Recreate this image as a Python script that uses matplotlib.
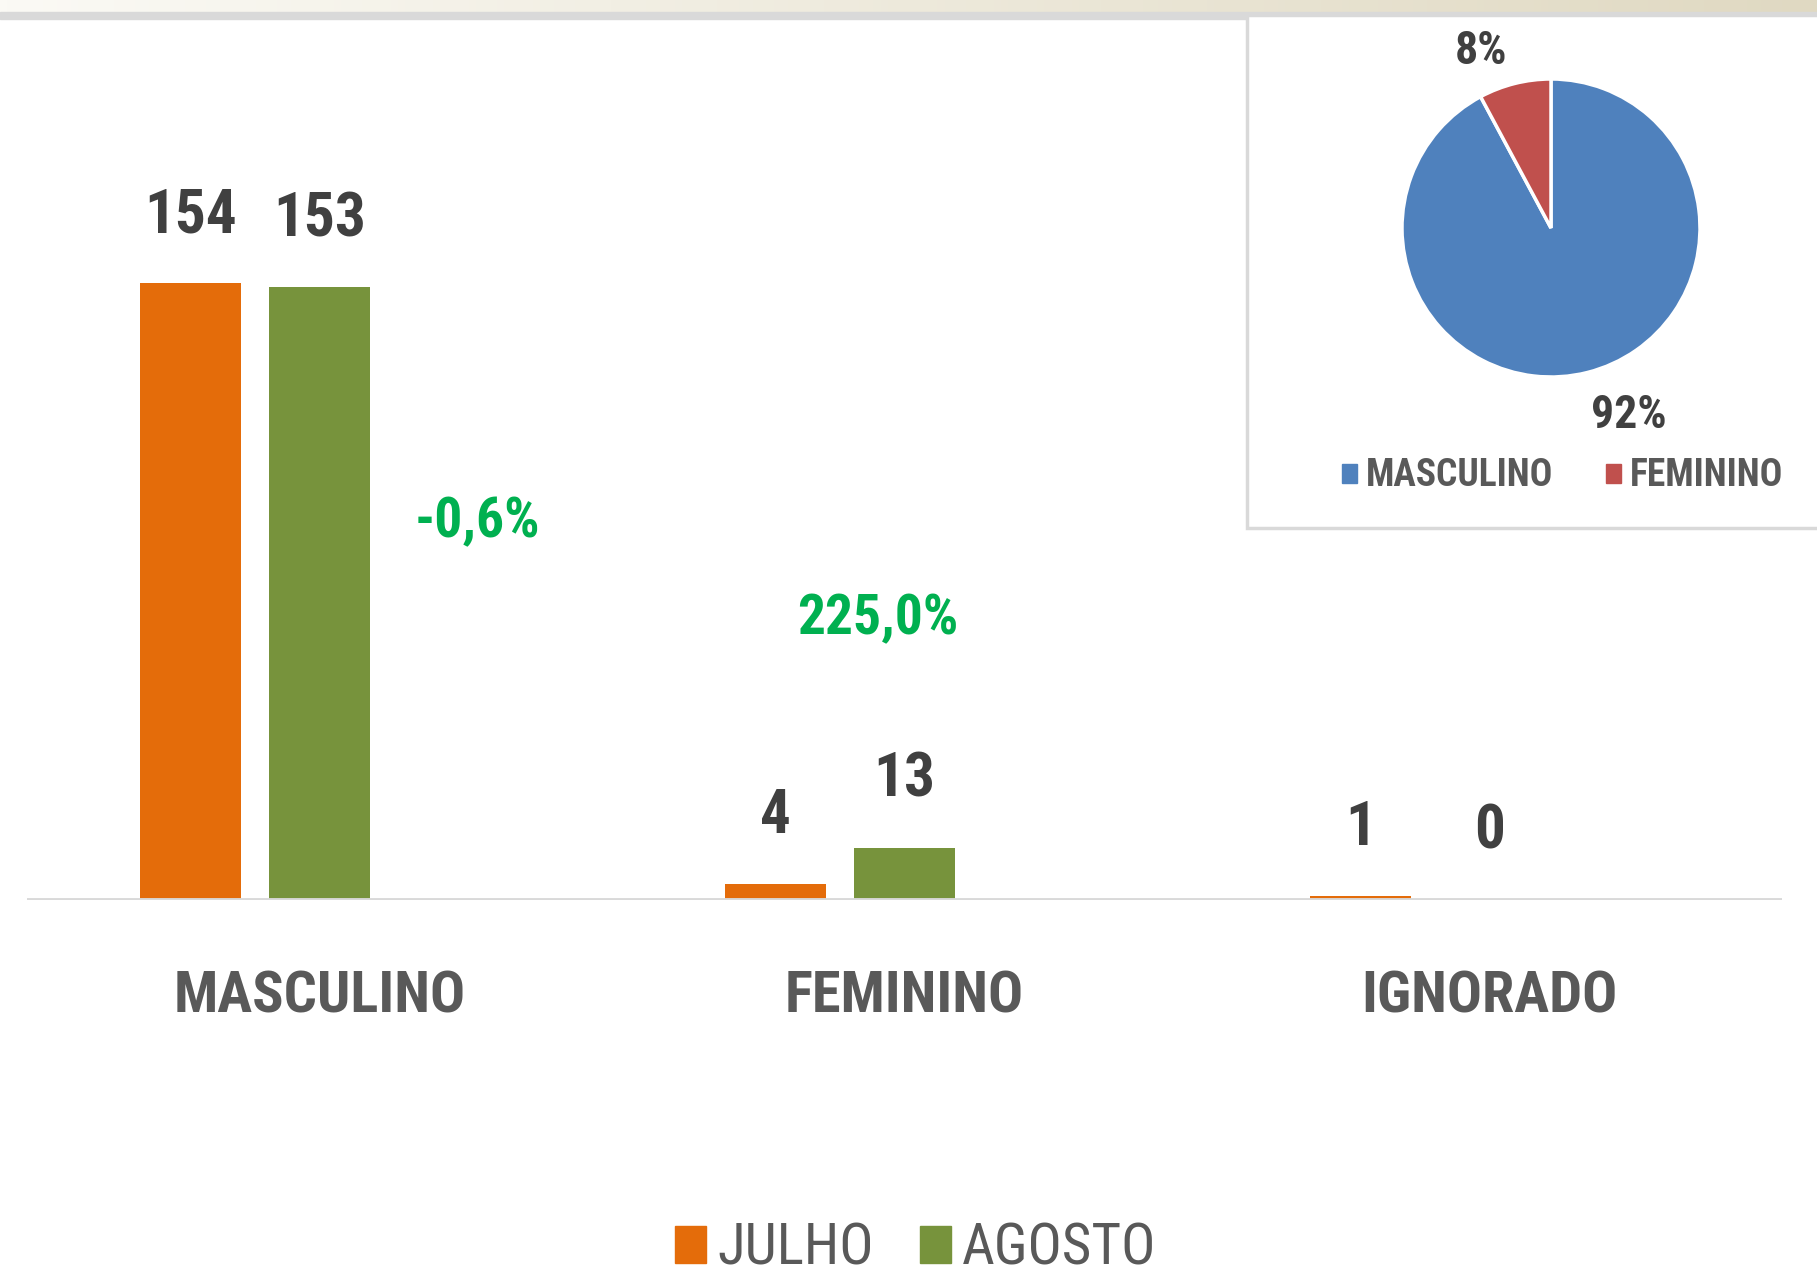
import numpy as np
import matplotlib.pyplot as plt
from matplotlib import font_manager as fm
from matplotlib.colors import to_rgb
from matplotlib.patches import Patch, Rectangle

# dados
categorias = ['MASCULINO', 'FEMININO', 'IGNORADO']
julho = [154, 4, 1]
agosto = [153, 13, 0]
meses = ['JULHO', 'AGOSTO']
pizza_labels = ['MASCULINO', 'FEMININO']
pizza_valores = [153, 13]

COR_JUL = '#e46c0a'
COR_AGO = '#77933c'
COR_AZUL = '#4f81bd'
COR_VERM = '#c0504d'
COR_VERDE_TXT = '#00b050'
CINZA_ESC = '#404040'
CINZA_MED = '#595959'
CINZA_CLARO = '#d9d9d9'


def fonte_estreita(negrito):
    """Procura uma fonte condensada instalada (parecida com Calibri esticada)."""
    peso_ok = (lambda w: w in ('bold', 700, 600, 'semibold', 'demibold')) if negrito \
        else (lambda w: w in ('normal', 'regular', 400, 'book'))
    prefs = ['Liberation Sans Narrow', 'Roboto Condensed', 'Open Sans Condensed',
             'DejaVu Sans Condensed']
    fontes = fm.fontManager.ttflist
    for nome in prefs:
        for f in fontes:
            if f.name == nome and peso_ok(f.weight) and f.style == 'normal':
                return fm.FontProperties(fname=f.fname)
    for f in fontes:
        if f.name == 'DejaVu Sans' and f.stretch == 'condensed' and peso_ok(f.weight) \
                and f.style == 'normal':
            return fm.FontProperties(fname=f.fname)
    for f in fontes:
        n = f.name.lower() + ' ' + f.fname.lower()
        if ('condensed' in n or 'narrow' in n) and peso_ok(f.weight) and f.style == 'normal' \
                and 'mono' not in n and 'serif' not in n:
            return fm.FontProperties(fname=f.fname)
    return fm.FontProperties(family='Lato', weight='bold' if negrito else 'normal')


FB = fonte_estreita(True)
FR = fonte_estreita(False)


def fp(base, size):
    p = base.copy()
    p.set_size(size)
    return p


W, H = 1817, 1279
fig = plt.figure(figsize=(W / 100, H / 100), dpi=100)

# faixa do topo (gradiente + linha cinza)
band = fig.add_axes([0, 1 - 12 / H, 1, 12 / H])
t = np.linspace(0, 1, 256)[:, None]
c0 = np.array(to_rgb('#fbfaf5'))
c1 = np.array(to_rgb('#e0d9c2'))
grad = c0 * (1 - t) + c1 * t
band.imshow(grad[None, :, :], aspect='auto')
band.axis('off')
fig.add_artist(Rectangle((0, 1 - 19 / H), 1, 7 / H, transform=fig.transFigure,
                         color=CINZA_CLARO, zorder=1))

# grafico de barras
ax = fig.add_axes([26.7 / W, 1 - 900 / H, (1782 - 26.7) / W, 801 / H])
ax.patch.set_alpha(0)
x = np.arange(len(categorias))
desloc = 0.22
larg = 0.172
ax.bar(x - desloc, julho, larg, color=COR_JUL, label=meses[0])
ax.bar(x, agosto, larg, color=COR_AGO, label=meses[1])
ax.set_xlim(-0.5, 2.5)
ax.set_ylim(0, 200)
ax.axhline(0, color=CINZA_CLARO, lw=3.5, zorder=3)
for s in ax.spines.values():
    s.set_visible(False)
ax.set_xticks([])
ax.set_yticks([])

for xs, vals in [(x - desloc, julho), (x, agosto)]:
    for xi, v in zip(xs, vals):
        ax.annotate(str(v), (xi, v), xytext=(0, 49), textcoords='offset points',
                    ha='center', va='center', fontproperties=fp(FB, 44),
                    color=CINZA_ESC)

for i, cat in enumerate(categorias):
    ax.text(i, -24.2, cat, ha='center', va='center', fontproperties=fp(FB, 42),
            color=CINZA_MED, clip_on=False)

# variacao percentual julho -> agosto
pos_pct = [(0.27, 94.3), (0.955, 70)]
for i, (px, py) in enumerate(pos_pct):
    var = (agosto[i] - julho[i]) / julho[i] * 100
    txt = f'{var:.1f}%'.replace('.', ',')
    ax.text(px, py, txt, ha='center', va='center', fontproperties=fp(FB, 40),
            color=COR_VERDE_TXT)

# legenda inferior
hand = [Patch(color=COR_JUL, label=meses[0]), Patch(color=COR_AGO, label=meses[1])]
fig.legend(handles=hand, loc='center', bbox_to_anchor=(0.504, 1 - 1249 / H),
           ncol=2, frameon=False, handlelength=0.55, handleheight=0.6,
           handletextpad=0.2, columnspacing=0.8, labelcolor=CINZA_MED,
           prop=fp(FR, 41), borderpad=0.1)

# caixa da pizza
fig.add_artist(Rectangle((1247 / W, 1 - 528 / H), (W - 1247 + 10) / W, (528 - 15) / H,
                         transform=fig.transFigure, facecolor='white',
                         edgecolor=CINZA_CLARO, lw=2.5, zorder=2))

pax = fig.add_axes([(1551 - 149) / W, 1 - (228 + 149) / H, 298 / W, 298 / H], zorder=3)
wedges, _, autotexts = pax.pie(
    pizza_valores, colors=[COR_AZUL, COR_VERM], startangle=90, counterclock=False,
    wedgeprops=dict(edgecolor='white', linewidth=2.5),
    autopct=lambda p: f'{p:.0f}%', pctdistance=1.3,
    textprops=dict(fontproperties=fp(FB, 33), color=CINZA_ESC))
pax.set_xlim(-1, 1)
pax.set_ylim(-1, 1)
# posicao dos rotulos como no original (fora da fatia)
pos_rot_pizza = [(0.52, -1.255), (-0.47, 1.19)]
for txt, pos in zip(autotexts, pos_rot_pizza):
    txt.set_position(pos)

hand2 = [Patch(color=COR_AZUL, label=pizza_labels[0]),
         Patch(color=COR_VERM, label=pizza_labels[1])]
leg2 = fig.legend(handles=hand2, loc='center', bbox_to_anchor=(0.860, 1 - 476 / H),
                  ncol=2, frameon=False, handlelength=0.4, handleheight=0.4,
                  handletextpad=0.25, columnspacing=1.4, labelcolor=CINZA_MED,
                  prop=fp(FB, 27))
leg2.set_zorder(4)

fig.savefig('out.png', dpi=100)
